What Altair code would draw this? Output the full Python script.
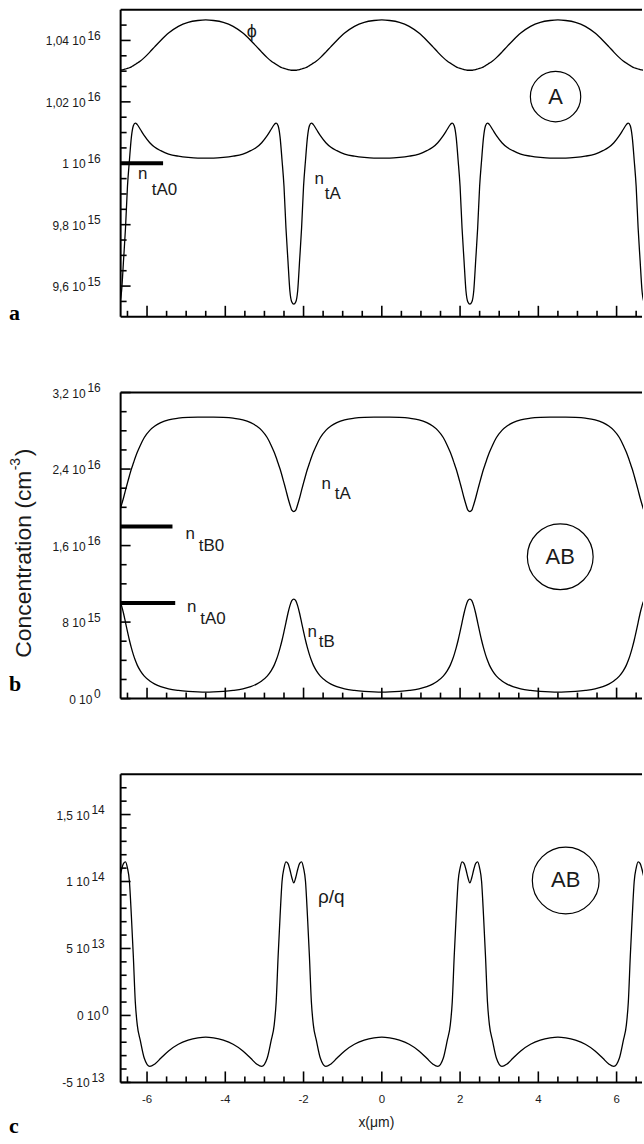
import altair as alt
import pandas as pd

# ---------------- data ----------------
# shared x positions (micrometres)
X_UM = [
    -6.75, -6.70, -6.65, -6.60, -6.55, -6.50, -6.45, -6.40, -6.35, -6.30, -6.25, -6.17, -6.07, -5.93, -5.80, -5.65, -5.45, -5.20, -4.95, -4.70, -4.50,
    -4.30, -4.05, -3.80, -3.55, -3.35, -3.20, -3.07, -2.93, -2.83, -2.75, -2.70, -2.65, -2.60, -2.55, -2.50, -2.45, -2.40, -2.35, -2.30, -2.25,
    -2.20, -2.15, -2.10, -2.05, -2.00, -1.95, -1.90, -1.85, -1.80, -1.75, -1.67, -1.57, -1.43, -1.30, -1.15, -0.95, -0.70, -0.45, -0.20, 0.00,
    0.20, 0.45, 0.70, 0.95, 1.15, 1.30, 1.43, 1.57, 1.67, 1.75, 1.80, 1.85, 1.90, 1.95, 2.00, 2.05, 2.10, 2.15, 2.20, 2.25,
    2.30, 2.35, 2.40, 2.45, 2.50, 2.55, 2.60, 2.65, 2.70, 2.75, 2.83, 2.93, 3.07, 3.20, 3.35, 3.55, 3.80, 4.05, 4.30, 4.50,
    4.70, 4.95, 5.20, 5.45, 5.65, 5.80, 5.93, 6.07, 6.17, 6.25, 6.30, 6.35, 6.40, 6.45, 6.50, 6.55, 6.60, 6.65, 6.70, 6.75,
]

# panel a : phi (scaled) and n_tA, units of 1e15 cm-3
PHI_A = [
    10.303, 10.303, 10.304, 10.305, 10.307, 10.309, 10.311, 10.314, 10.318, 10.322, 10.326, 10.333, 10.344, 10.362, 10.380, 10.400, 10.424, 10.446, 10.459, 10.465, 10.467,
    10.465, 10.459, 10.446, 10.424, 10.400, 10.380, 10.362, 10.344, 10.333, 10.326, 10.322, 10.318, 10.314, 10.311, 10.309, 10.307, 10.305, 10.304, 10.303, 10.303,
    10.303, 10.304, 10.305, 10.307, 10.309, 10.311, 10.314, 10.318, 10.322, 10.326, 10.333, 10.344, 10.362, 10.380, 10.400, 10.424, 10.446, 10.459, 10.465, 10.467,
    10.465, 10.459, 10.446, 10.424, 10.400, 10.380, 10.362, 10.344, 10.333, 10.326, 10.322, 10.318, 10.314, 10.311, 10.309, 10.307, 10.305, 10.304, 10.303, 10.303,
    10.303, 10.304, 10.305, 10.307, 10.309, 10.311, 10.314, 10.318, 10.322, 10.326, 10.333, 10.344, 10.362, 10.380, 10.400, 10.424, 10.446, 10.459, 10.465, 10.467,
    10.465, 10.459, 10.446, 10.424, 10.400, 10.380, 10.362, 10.344, 10.333, 10.326, 10.322, 10.318, 10.314, 10.311, 10.309, 10.307, 10.305, 10.304, 10.303, 10.303,
]
NTA_A = [
    9.541, 9.548, 9.585, 9.685, 9.790, 9.925, 10.010, 10.085, 10.122, 10.131, 10.126, 10.110, 10.090, 10.067, 10.052, 10.041, 10.030, 10.023, 10.019, 10.017, 10.017,
    10.017, 10.019, 10.023, 10.030, 10.041, 10.052, 10.067, 10.090, 10.110, 10.126, 10.131, 10.122, 10.085, 10.010, 9.925, 9.790, 9.685, 9.585, 9.548, 9.541,
    9.548, 9.585, 9.685, 9.790, 9.925, 10.010, 10.085, 10.122, 10.131, 10.126, 10.110, 10.090, 10.067, 10.052, 10.041, 10.030, 10.023, 10.019, 10.017, 10.017,
    10.017, 10.019, 10.023, 10.030, 10.041, 10.052, 10.067, 10.090, 10.110, 10.126, 10.131, 10.122, 10.085, 10.010, 9.925, 9.790, 9.685, 9.585, 9.548, 9.541,
    9.548, 9.585, 9.685, 9.790, 9.925, 10.010, 10.085, 10.122, 10.131, 10.126, 10.110, 10.090, 10.067, 10.052, 10.041, 10.030, 10.023, 10.019, 10.017, 10.017,
    10.017, 10.019, 10.023, 10.030, 10.041, 10.052, 10.067, 10.090, 10.110, 10.126, 10.131, 10.122, 10.085, 10.010, 9.925, 9.790, 9.685, 9.585, 9.548, 9.541,
]

# panel b : n_tA and n_tB, units of 1e15 cm-3
NTA_B = [
    19.55, 19.70, 20.30, 21.00, 21.80, 22.55, 23.30, 24.00, 24.60, 25.20, 25.75, 26.50, 27.30, 28.05, 28.50, 28.85, 29.15, 29.32, 29.40, 29.43, 29.43,
    29.43, 29.40, 29.32, 29.15, 28.85, 28.50, 28.05, 27.30, 26.50, 25.75, 25.20, 24.60, 24.00, 23.30, 22.55, 21.80, 21.00, 20.30, 19.70, 19.55,
    19.70, 20.30, 21.00, 21.80, 22.55, 23.30, 24.00, 24.60, 25.20, 25.75, 26.50, 27.30, 28.05, 28.50, 28.85, 29.15, 29.32, 29.40, 29.43, 29.43,
    29.43, 29.40, 29.32, 29.15, 28.85, 28.50, 28.05, 27.30, 26.50, 25.75, 25.20, 24.60, 24.00, 23.30, 22.55, 21.80, 21.00, 20.30, 19.70, 19.55,
    19.70, 20.30, 21.00, 21.80, 22.55, 23.30, 24.00, 24.60, 25.20, 25.75, 26.50, 27.30, 28.05, 28.50, 28.85, 29.15, 29.32, 29.40, 29.43, 29.43,
    29.43, 29.40, 29.32, 29.15, 28.85, 28.50, 28.05, 27.30, 26.50, 25.75, 25.20, 24.60, 24.00, 23.30, 22.55, 21.80, 21.00, 20.30, 19.70, 19.55,
]
NTB_B = [
    10.41, 10.25, 9.70, 8.90, 7.95, 7.00, 6.10, 5.30, 4.60, 4.00, 3.50, 2.90, 2.35, 1.85, 1.52, 1.25, 1.02, 0.86, 0.76, 0.70, 0.68,
    0.70, 0.76, 0.86, 1.02, 1.25, 1.52, 1.85, 2.35, 2.90, 3.50, 4.00, 4.60, 5.30, 6.10, 7.00, 7.95, 8.90, 9.70, 10.25, 10.41,
    10.25, 9.70, 8.90, 7.95, 7.00, 6.10, 5.30, 4.60, 4.00, 3.50, 2.90, 2.35, 1.85, 1.52, 1.25, 1.02, 0.86, 0.76, 0.70, 0.68,
    0.70, 0.76, 0.86, 1.02, 1.25, 1.52, 1.85, 2.35, 2.90, 3.50, 4.00, 4.60, 5.30, 6.10, 7.00, 7.95, 8.90, 9.70, 10.25, 10.41,
    10.25, 9.70, 8.90, 7.95, 7.00, 6.10, 5.30, 4.60, 4.00, 3.50, 2.90, 2.35, 1.85, 1.52, 1.25, 1.02, 0.86, 0.76, 0.70, 0.68,
    0.70, 0.76, 0.86, 1.02, 1.25, 1.52, 1.85, 2.35, 2.90, 3.50, 4.00, 4.60, 5.30, 6.10, 7.00, 7.95, 8.90, 9.70, 10.25, 10.41,
]

# panel c : rho/q, units of 1e13 cm-3
RHO_C = [
    9.90, 10.30, 10.90, 11.35, 11.47, 11.00, 10.00, 7.40, 4.40, 1.00, -0.70, -1.90, -3.20, -3.81, -3.62, -3.20, -2.65, -2.15, -1.85, -1.68, -1.62,
    -1.68, -1.85, -2.15, -2.65, -3.20, -3.62, -3.81, -3.20, -1.90, -0.70, 1.00, 4.40, 7.40, 10.00, 11.00, 11.47, 11.35, 10.90, 10.30, 9.90,
    10.30, 10.90, 11.35, 11.47, 11.00, 10.00, 7.40, 4.40, 1.00, -0.70, -1.90, -3.20, -3.81, -3.62, -3.20, -2.65, -2.15, -1.85, -1.68, -1.62,
    -1.68, -1.85, -2.15, -2.65, -3.20, -3.62, -3.81, -3.20, -1.90, -0.70, 1.00, 4.40, 7.40, 10.00, 11.00, 11.47, 11.35, 10.90, 10.30, 9.90,
    10.30, 10.90, 11.35, 11.47, 11.00, 10.00, 7.40, 4.40, 1.00, -0.70, -1.90, -3.20, -3.81, -3.62, -3.20, -2.65, -2.15, -1.85, -1.68, -1.62,
    -1.68, -1.85, -2.15, -2.65, -3.20, -3.62, -3.81, -3.20, -1.90, -0.70, 1.00, 4.40, 7.40, 10.00, 11.00, 11.47, 11.35, 10.90, 10.30, 9.90,
]

# ticks and labels
XT_MAJOR = [-6, -4, -2, 0, 2, 4, 6]
XT_LABELS = ["-6", "-4", "-2", "0", "2", "4", "6"]

YA_VALS = [9.6, 9.8, 10.0, 10.2, 10.4]
YA_BASE = ["9,6 10", "9,8 10", "1 10", "1,02 10", "1,04 10"]
YA_EXP = ["15", "15", "16", "16", "16"]

YB_VALS = [0, 8, 16, 24, 32]
YB_BASE = ["0 10", "8 10", "1,6 10", "2,4 10", "3,2 10"]
YB_EXP = ["0", "15", "16", "16", "16"]

YC_VALS = [-5, 0, 5, 10, 15]
YC_BASE = ["-5 10", "0 10", "5 10", "1 10", "1,5 10"]
YC_EXP = ["13", "0", "13", "14", "14"]

# annotations (data coordinates)
NOTES_A = {"x": [-3.45, -6.23, -5.88, -1.72, -1.46],
           "v": [10.41, 9.948, 9.896, 9.933, 9.884],
           "t": ["\u03d5", "n", "tA0", "n", "tA"],
           "fs": [18, 17, 17, 17, 17]}
NOTES_B = {"x": [-5.02, -4.68, -4.98, -4.64, -1.54, -1.20, -1.90, -1.61],
           "v": [16.64, 15.39, 9.02, 7.77, 21.96, 20.91, 6.41, 5.37],
           "t": ["n", "tB0", "n", "tA0", "n", "tA", "n", "tB"],
           "fs": [17, 17, 17, 17, 17, 17, 17, 17]}
NOTES_C = {"x": [-1.63], "v": [8.40], "t": ["\u03c1/q"], "fs": [19]}

REFS_A = {"x1": [-6.675], "x2": [-5.59], "v": [10.0]}
REFS_B = {"x1": [-6.675, -6.675], "x2": [-5.35, -5.28], "v": [18.0, 10.0]}

CIRC_A = {"x": [4.44], "v": [10.217], "lab": ["A"], "sz": [2550]}
CIRC_B = {"x": [4.56], "v": [14.83], "lab": ["AB"], "sz": [4356]}
CIRC_C = {"x": [4.70], "v": [10.08], "lab": ["AB"], "sz": [4489]}

# ---------------- layout / style ----------------
W = 524
XDOM = [-6.675, 6.675]
FONT = "Liberation Sans"
SERIF = "Liberation Serif"
INK = "#1a1a1a"
one = pd.DataFrame({"k": [0]})


def minor_ticks(lo, hi, step, majors):
    n = int(round((hi - lo) / step))
    out = []
    for i in range(1, n):
        v = round(lo + i * step, 4)
        if all(abs(v - m) > 1e-6 for m in majors):
            out.append(v)
    return out


def panel(H, ydom, curve_df, yv, yb, ye, ystep, exp_right, notes, refs, circ,
          letter, letter_y, xlabels=False, extra=()):
    xsc = alt.Scale(domain=XDOM, nice=False, zero=False)
    ysc = alt.Scale(domain=ydom, nice=False, zero=False)

    def X(f):
        return alt.X(f, type="quantitative", scale=xsc, axis=None)

    def Y(f):
        return alt.Y(f, type="quantitative", scale=ysc, axis=None)

    L = []
    L.append(alt.Chart(curve_df).mark_line(color="black", strokeWidth=1.3,
                                           interpolate="monotone", clip=True)
             .encode(x=X("x"), y=Y("v"), detail="s:N"))
    if refs is not None:
        L.append(alt.Chart(pd.DataFrame(refs)).mark_rule(color="black", strokeWidth=4)
                 .encode(x=X("x1"), x2=alt.X2("x2"), y=Y("v")))
    # frame (top, left, bottom)
    L.append(alt.Chart(one).mark_rule(color="black", strokeWidth=2)
             .encode(x=alt.value(0), x2=alt.value(W - 1), y=alt.value(0)))
    L.append(alt.Chart(one).mark_rule(color="black", strokeWidth=2)
             .encode(x=alt.value(0), y=alt.value(0), y2=alt.value(H)))
    L.append(alt.Chart(one).mark_rule(color="black", strokeWidth=2)
             .encode(x=alt.value(0), x2=alt.value(W - 1), y=alt.value(H)))
    # inward ticks
    L.append(alt.Chart(pd.DataFrame({"t": XT_MAJOR})).mark_rule(color="black", strokeWidth=1.6)
             .encode(x=X("t"), y=alt.value(H), y2=alt.value(H - 11)))
    L.append(alt.Chart(pd.DataFrame({"t": minor_ticks(-7, 7, 0.5, XT_MAJOR)}))
             .mark_rule(color="black", strokeWidth=1.6)
             .encode(x=X("t"), y=alt.value(H), y2=alt.value(H - 6)))
    L.append(alt.Chart(pd.DataFrame({"v": yv})).mark_rule(color="black", strokeWidth=1.6)
             .encode(y=Y("v"), x=alt.value(0), x2=alt.value(10)))
    L.append(alt.Chart(pd.DataFrame({"v": minor_ticks(ydom[0], ydom[1], ystep, yv)}))
             .mark_rule(color="black", strokeWidth=1.6)
             .encode(y=Y("v"), x=alt.value(0), x2=alt.value(6)))
    # y tick labels: mantissa "x 10" + raised exponent
    df = pd.DataFrame({"v": yv, "b": yb, "e": ye})
    for n in sorted(set(len(e) for e in ye)):
        sub = df[df["e"].str.len() == n]
        er = exp_right[n]
        br = er - 6.8 * n - 1.5
        L.append(alt.Chart(sub).mark_text(align="right", baseline="middle", dy=1,
                                          fontSize=12, font=FONT, color=INK)
                 .encode(x=alt.value(br), y=Y("v"), text="b:N"))
        L.append(alt.Chart(sub).mark_text(align="right", baseline="middle", dy=-4.5,
                                          fontSize=12, font=FONT, color=INK)
                 .encode(x=alt.value(er), y=Y("v"), text="e:N"))
    if xlabels:
        L.append(alt.Chart(pd.DataFrame({"t": XT_MAJOR, "lab": XT_LABELS}))
                 .mark_text(align="center", baseline="middle", fontSize=11.5, font=FONT, color=INK)
                 .encode(x=X("t"), y=alt.value(H + 18), text="lab:N"))
        L.append(alt.Chart(pd.DataFrame({"x": [-0.14], "lab": ["x(\u03bcm)"]}))
                 .mark_text(align="center", baseline="middle", fontSize=14, font=FONT, color=INK)
                 .encode(x=X("x"), y=alt.value(H + 41), text="lab:N"))
    # annotations
    L.append(alt.Chart(pd.DataFrame(notes)).mark_text(align="left", baseline="alphabetic",
                                                      font=FONT, color=INK)
             .encode(x=X("x"), y=Y("v"), text="t:N", size=alt.Size("fs:Q", scale=None)))
    L.append(alt.Chart(pd.DataFrame(circ)).mark_point(shape="circle", filled=False, color="black",
                                                      strokeWidth=1.2, opacity=1)
             .encode(x=X("x"), y=Y("v"), size=alt.Size("sz:Q", scale=None)))
    L.append(alt.Chart(pd.DataFrame(circ)).mark_text(align="center", baseline="middle",
                                                     fontSize=22, font=FONT, color=INK)
             .encode(x=X("x"), y=Y("v"), text="lab:N"))
    L.append(alt.Chart(one).mark_text(align="left", baseline="alphabetic", font=SERIF,
                                      fontWeight="bold", fontSize=22, color="black")
             .encode(x=alt.value(-112), y=alt.value(letter_y), text=alt.value(letter)))
    L.extend(extra)
    return alt.layer(*L).properties(width=W, height=H)


HA, HB, HC = 308, 307, 309

df_a = pd.DataFrame({"x": X_UM + X_UM, "v": PHI_A + NTA_A,
                     "s": ["phi"] * len(X_UM) + ["ntA"] * len(X_UM)})
df_b = pd.DataFrame({"x": X_UM + X_UM, "v": NTA_B + NTB_B,
                     "s": ["ntA"] * len(X_UM) + ["ntB"] * len(X_UM)})
df_c = pd.DataFrame({"x": X_UM, "v": RHO_C, "s": ["rho"] * len(X_UM)})

ytitle = [
    alt.Chart(one).mark_text(angle=270, align="left", baseline="alphabetic", fontSize=23,
                             font=FONT, color=INK)
    .encode(x=alt.value(-90), y=alt.value(266), text=alt.value("Concentration (cm")),
    alt.Chart(one).mark_text(angle=270, align="left", baseline="alphabetic", fontSize=14,
                             font=FONT, color=INK)
    .encode(x=alt.value(-101), y=alt.value(78), text=alt.value("-3")),
    alt.Chart(one).mark_text(angle=270, align="left", baseline="alphabetic", fontSize=23,
                             font=FONT, color=INK)
    .encode(x=alt.value(-90), y=alt.value(64), text=alt.value(")")),
]

pa = panel(HA, [9.5, 10.5], df_a, YA_VALS, YA_BASE, YA_EXP, 0.05, {1: -20, 2: -20},
           NOTES_A, REFS_A, CIRC_A, "a", HA + 3)
pb = panel(HB, [0, 32], df_b, YB_VALS, YB_BASE, YB_EXP, 2, {1: -20, 2: -20},
           NOTES_B, REFS_B, CIRC_B, "b", HB - 8, extra=ytitle)
pc = panel(HC, [-5, 18], df_c, YC_VALS, YC_BASE, YC_EXP, 1, {1: -12, 2: -16},
           NOTES_C, None, CIRC_C, "c", HC + 51, xlabels=True)

chart = alt.vconcat(pa, pb, pc, spacing=76, bounds="flush",
                    padding={"left": 8, "top": 6, "right": 0, "bottom": 0}
                    ).configure_view(stroke="transparent")

chart.save("out.html", embed_options={"renderer": "svg", "actions": False})
